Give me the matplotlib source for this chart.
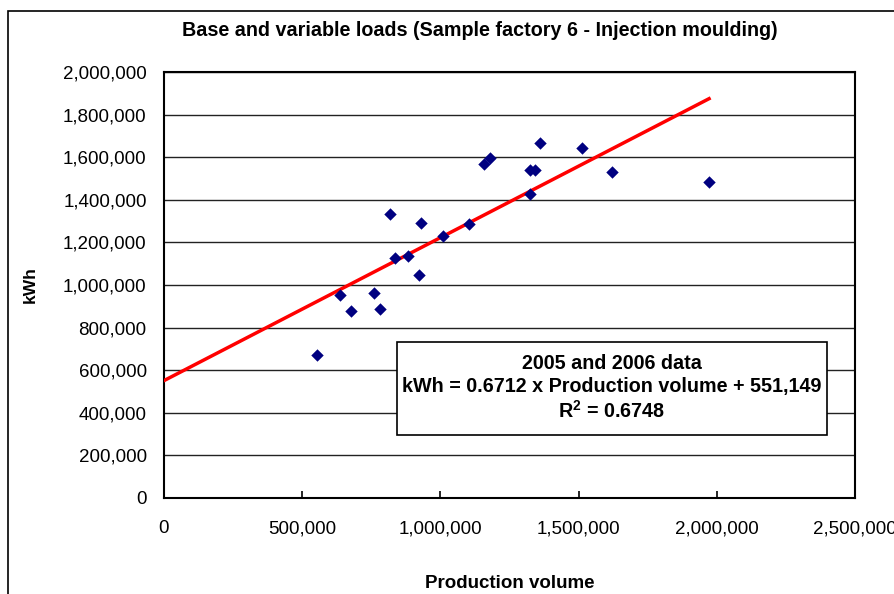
import numpy as np
import matplotlib
matplotlib.use('Agg')
import matplotlib.pyplot as plt
from matplotlib.patches import Rectangle
from matplotlib.ticker import FuncFormatter

plt.rcParams['font.family'] = ['Liberation Sans', 'DejaVu Sans']
plt.rcParams['mathtext.fontset'] = 'custom'
plt.rcParams['mathtext.rm'] = 'Liberation Sans'
plt.rcParams['mathtext.bf'] = 'Liberation Sans:bold'

# data
production = [553500, 636800, 676600, 759800, 781500, 817700, 835700, 882800,
              922600, 929800, 1009400, 1103500, 1157700, 1179400, 1324000,
              1342000, 1324000, 1360000, 1512000, 1621000, 1972000]
kwh = [671000, 953000, 878000, 962000, 887000, 1333000, 1127000, 1136000,
       1047000, 1291000, 1230000, 1286000, 1568000, 1596000, 1540000,
       1540000, 1427000, 1667000, 1643000, 1531000, 1484000]

slope = 0.6712
intercept = 551149
r2 = 0.6748

x_ticks = [0, 500000, 1000000, 1500000, 2000000, 2500000]
y_ticks = [0, 200000, 400000, 600000, 800000, 1000000, 1200000, 1400000,
           1600000, 1800000, 2000000]

fig = plt.figure(figsize=(8.95, 5.94), dpi=100)
ax = fig.add_axes([164/895, 96/594, 691/895, 426/594])

# outer chart border
fig.patches.append(Rectangle((8/895, -0.05), 1.0, (594-11)/594 + 0.05,
                             transform=fig.transFigure, fill=False,
                             edgecolor='black', linewidth=1.2, clip_on=False))

ax.set_xlim(0, 2500000)
ax.set_ylim(0, 2000000)
ax.set_xticks(x_ticks)
ax.set_yticks(y_ticks)
fmt = FuncFormatter(lambda v, p: '{:,}'.format(int(v)))
ax.xaxis.set_major_formatter(fmt)
ax.yaxis.set_major_formatter(fmt)

ax.grid(axis='y', color='#222222', linewidth=1.0)
ax.set_axisbelow(True)
for s in ax.spines.values():
    s.set_linewidth(1.5)
    s.set_color('black')

ax.tick_params(axis='x', direction='in', length=5, width=1.2, pad=16, labelsize=13.5)
ax.tick_params(axis='y', length=0, pad=12.5, labelsize=13.5)

xs = np.array([0, max(production)])
ax.plot(xs, slope * xs + intercept, color='#ff0000', linewidth=2.5, zorder=3)
ax.scatter(production, kwh, marker='D', s=40, color='#000080', zorder=4, linewidths=0)

fig.text(480/895, 1 - 30/594, 'Base and variable loads (Sample factory 6 - Injection moulding)',
         ha='center', va='center', fontsize=14.2, fontweight='bold')
ax.set_xlabel('Production volume', fontsize=13.5, fontweight='bold', labelpad=27)
fig.text(30/895, 1 - 285/594, 'kWh', rotation=90, ha='center', va='center',
         fontsize=12.5, fontweight='bold')

# equation box
ax.add_patch(Rectangle((0.337, 0.148), 0.6225, 0.218, transform=ax.transAxes,
                       facecolor='white', edgecolor='black', linewidth=1.2, zorder=5))
ax.text(0.648, 0.258,
        '2005 and 2006 data\nkWh = {} x Production volume + {:,}\n'
        '$\\mathbf{{R^2}}$ = {}'.format(slope, intercept, r2),
        transform=ax.transAxes, ha='center', va='center', fontsize=14.2,
        fontweight='bold', linespacing=1.25, zorder=6)

fig.savefig('out.png', dpi=100)
